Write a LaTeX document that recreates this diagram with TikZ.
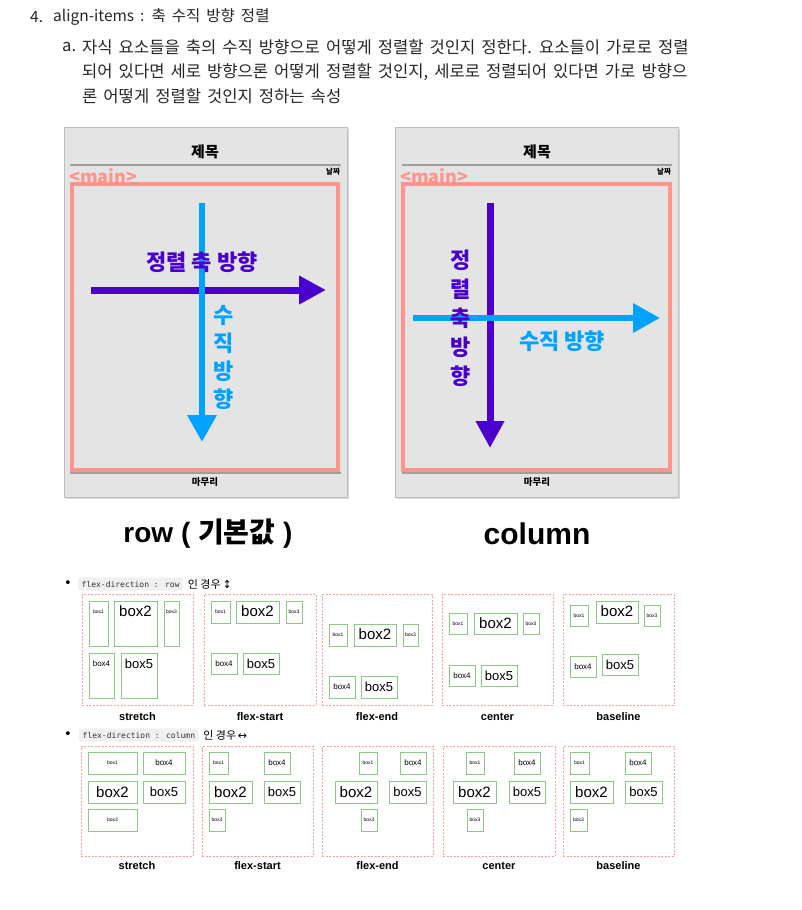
\documentclass[tikz,border=0pt]{standalone}
\usepackage{fontspec}
\setmainfont{Noto Sans CJK KR}
\newfontfamily\kr{Noto Sans CJK KR}
\newfontfamily\arial{Liberation Sans}
\newfontfamily\mono{DejaVu Sans Mono}
\newfontfamily\symb{DejaVu Sans}
\usepackage{tikz}
\usetikzlibrary{arrows.meta, positioning, fit, calc}
\newcommand{\pxsize}[1]{\fontsize{#1}{#1}\selectfont}
\newcommand{\bodyfont}{\kr\pxsize{16.6}\spaceskip 6pt\relax}
\newcommand{\headfont}{\kr\pxsize{15.5}\spaceskip 6pt\relax}
\definecolor{panelgray}{HTML}{E4E4E4}
\definecolor{panelline}{HTML}{BDBDBD}
\definecolor{rulegray}{HTML}{9E9E9E}
\definecolor{salmon}{HTML}{FF948C}
\definecolor{axispurple}{HTML}{4A00CD}
\definecolor{crossblue}{HTML}{00A2FF}
\definecolor{demored}{HTML}{FF9C9C}
\definecolor{itemgreen}{HTML}{8DC887}
\definecolor{codebg}{HTML}{F0F0F0}
\definecolor{bodytext}{HTML}{262626}

\begin{document}
\begin{tikzpicture}[
    x=1pt, y=-1pt,
    body/.style={font=\bodyfont, text=bodytext, anchor=west, inner sep=0pt},
    shade/.style={fill=black!15, inner sep=0pt},
    panel/.style={draw=panelline, fill=panelgray, line width=0.8pt, inner sep=0pt},
    mainframe/.style={draw=salmon, line width=3.5pt, inner sep=0pt},
    rule/.style={draw=rulegray, line width=2pt},
    alignarr/.style={draw=axispurple, line width=7pt, -{Triangle[length=27pt, width=27pt]}},
    crossarr/.style={draw=crossblue, line width=6.5pt, -{Triangle[length=27pt, width=28pt]}},
    demo/.style={draw=demored, dash pattern=on 2pt off 1.5pt, line width=0.6pt, inner sep=0pt},
    item/.style={draw=itemgreen, line width=0.9pt, inner sep=0pt},
    caption/.style={font=\arial\bfseries\pxsize{11}, anchor=base},
    code/.style={fill=codebg, rounded corners=2pt, font=\mono\pxsize{8}, text=black!80, inner sep=3.5pt, anchor=west},
]
\useasboundingbox (0,0) rectangle (801,910);

% heading
\node[body, font=\headfont] (num4) at (30,17) {4.};
\node[body, font=\headfont] (head) at (53,17) {align-items : 축 수직 방향 정렬};
\node[body] (numA) at (62,47) {a.};
\node[body] (lineA1) at (82,47) {자식 요소들을 축의 수직 방향으로 어떻게 정렬할 것인지 정한다. 요소들이 가로로 정렬};
\node[body] (lineA2) at (82,72) {되어 있다면 세로 방향으론 어떻게 정렬할 것인지, 세로로 정렬되어 있다면 가로 방향으};
\node[body] (lineA3) at (82,96) {론 어떻게 정렬할 것인지 정하는 속성};

% row panel
\node[shade, fit={(66,129) (349,499)}] (shadeL) {};
\node[panel, fit={(64,127) (347,497)}] (frameL) {};
\node[font=\kr\bfseries\pxsize{15}] (titleL) at (205,152) {제목};
\draw[rule] (70,165) -- (341,165);
\draw[rule] (70,473) -- (341,473);
\node[font=\kr\bfseries\pxsize{18}, text=salmon, anchor=west, inner sep=0pt] (tagL) at (69,176) {<main>};
\node[font=\kr\bfseries\pxsize{7.5}] (dateL) at (333,172) {날짜};
\node[font=\kr\bfseries\pxsize{9.5}] (endL) at (205,482) {마무리};
\node[mainframe, fit={(72,184) (338,470)}] (mainL) {};
\coordinate (axisL-w) at (91,290);
\coordinate (axisL-e) at (326,290);
\coordinate (crossL-n) at (202,203);
\coordinate (crossL-s) at (202,442);
\draw[alignarr] (axisL-w) -- (axisL-e);
\draw[crossarr] (crossL-n) -- (crossL-s);
\node[font=\kr\bfseries\pxsize{22}, text=axispurple] (axisLabL) at (202,262) {정렬 축 방향};
\node[font=\kr\bfseries\fontsize{22}{28}\selectfont, text=crossblue, align=center, inner sep=0pt] (crossLabL) at (224,358) {수\\직\\방\\향};
\node[font=\arial\bfseries\pxsize{28}] (capL) at (208,534) {row ( {\kr 기본값} )};

% column panel
\node[shade, fit={(397,129) (680,499)}] (shadeR) {};
\node[panel, fit={(395,127) (678,497)}] (frameR) {};
\node[font=\kr\bfseries\pxsize{15}] (titleR) at (537,152) {제목};
\draw[rule] (402,165) -- (672,165);
\draw[rule] (402,473) -- (672,473);
\node[font=\kr\bfseries\pxsize{18}, text=salmon, anchor=west, inner sep=0pt] (tagR) at (400,176) {<main>};
\node[font=\kr\bfseries\pxsize{7.5}] (dateR) at (664,172) {날짜};
\node[font=\kr\bfseries\pxsize{9.5}] (endR) at (537,482) {마무리};
\node[mainframe, fit={(403,184) (670,470)}] (mainR) {};
\coordinate (axisR-n) at (490,203);
\coordinate (axisR-s) at (490,448);
\coordinate (crossR-w) at (413,318);
\coordinate (crossR-e) at (660,318);
\draw[alignarr] (axisR-n) -- (axisR-s);
\draw[crossarr] (crossR-w) -- (crossR-e);
\node[font=\kr\bfseries\fontsize{22}{29}\selectfont, text=axispurple, align=center, inner sep=0pt] (axisLabR) at (461,318) {정\\렬\\축\\방\\향};
\node[font=\kr\bfseries\pxsize{22}, text=crossblue] (crossLabR) at (562,341) {수직 방향};
\node[font=\arial\bfseries\pxsize{30}] (capR) at (537,534) {column};

% flex-direction : row
\node[font=\symb\pxsize{13}, inner sep=0pt] (dotRow) at (68,584) {•};
\node[code] (codeRow) at (78,584) {flex-direction : row};
\node[font=\kr\pxsize{11}, right=1pt of codeRow] (noteRow) {인 경우\,{\symb ↕}};
\foreach \nm/\xa/\xb/\lab in {s/82/193/stretch, fs/204/316/flex-start, fe/322/432/flex-end, c/442/553/center, b/563/674/baseline}{
  \node[demo, fit={(\xa,594) (\xb,705)}] (rowp-\nm) {};
  \node[caption, yshift=-15pt] (rowc-\nm) at (rowp-\nm.south) {\lab};
}
\foreach \nm/\xa/\ya/\xb/\yb/\sz/\tx in {
  r1a/89/601/108/646/5/box1, r1b/114/601/157/646/15/box2, r1c/164/601/179/646/5/box3, r1d/89/653/114/698/8/box4, r1e/121/653/157/698/13/box5,
  r2a/211/601/230/623/5/box1, r2b/236/601/279/623/15/box2, r2c/286/601/302/623/5/box3, r2d/211/653/237/674/8/box4, r2e/243/653/279/674/13/box5,
  r3a/329/624/347/646/5/box1, r3b/354/624/396/646/15/box2, r3c/403/624/418/646/5/box3, r3d/329/676/355/698/8/box4, r3e/361/676/397/698/13/box5,
  r4a/449/613/467/634/5/box1, r4b/474/613/517/634/15/box2, r4c/523/613/539/634/5/box3, r4d/449/665/475/686/8/box4, r4e/481/665/517/686/13/box5,
  r5a/570/605/588/626/5/box1, r5b/596/601/638/623/15/box2, r5c/644/605/660/626/5/box3, r5d/570/656/596/677/8/box4, r5e/602/654/638/675/13/box5}{
  \node[item, fit={(\xa,\ya) (\xb,\yb)}] (\nm) {};
  \node[font=\arial\pxsize{\sz}, inner sep=0pt] (\nm-t) at ([yshift=-11pt]\nm.north) {\tx};
}

% flex-direction : column
\node[font=\symb\pxsize{13}, inner sep=0pt] (dotCol) at (68,735) {•};
\node[code] (codeCol) at (79,735) {flex-direction : column};
\node[font=\kr\pxsize{11}, right=1pt of codeCol] (noteCol) {인 경우\,{\symb ↔}};
\foreach \nm/\xa/\xb/\lab in {s/81/193/stretch, fs/202/313/flex-start, fe/322/433/flex-end, c/443/555/center, b/563/674/baseline}{
  \node[demo, fit={(\xa,746) (\xb,856)}] (colp-\nm) {};
  \node[caption, yshift=-13pt] (colc-\nm) at (colp-\nm.south) {\lab};
}
\foreach \nm/\xa/\ya/\xb/\yb/\sz/\tx in {
  c1a/88/752/137/774/5/box1, c1d/143/752/185/774/8/box4, c1b/88/781/137/803/15/box2, c1e/143/781/185/803/13/box5, c1c/88/809/137/831/5/box3,
  c2a/209/752/228/774/5/box1, c2d/264/752/290/774/8/box4, c2b/209/781/252/803/15/box2, c2e/264/781/300/803/13/box5, c2c/209/809/225/831/5/box3,
  c3a/359/752/377/774/5/box1, c3d/400/752/426/774/8/box4, c3b/335/781/377/803/15/box2, c3e/389/781/426/803/13/box5, c3c/361/809/377/831/5/box3,
  c4a/466/752/484/774/5/box1, c4d/514/752/540/774/8/box4, c4b/453/781/496/803/15/box2, c4e/509/781/545/803/13/box5, c4c/467/809/483/831/5/box3,
  c5a/570/752/589/774/5/box1, c5d/625/752/651/774/8/box4, c5b/570/781/613/803/15/box2, c5e/625/781/662/803/13/box5, c5c/570/809/587/831/5/box3}{
  \node[item, fit={(\xa,\ya) (\xb,\yb)}] (\nm) {};
  \node[font=\arial\pxsize{\sz}, inner sep=0pt] (\nm-t) at (\nm.center) {\tx};
}
\end{tikzpicture}
\end{document}
